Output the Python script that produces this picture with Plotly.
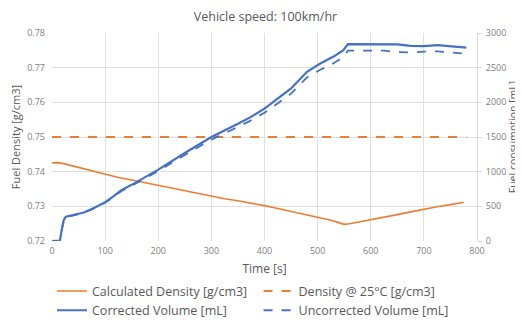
import plotly.graph_objects as go

title_text = "Vehicle speed: 100km/hr"

t_density = [0, 10, 20, 30, 40, 50, 60, 75, 100, 125, 150, 175, 200, 225, 250, 275, 300, 325, 350, 375,
             400, 425, 450, 475, 500, 525, 540, 550, 560, 575, 600, 625, 650, 675, 700, 725, 750, 775]
density = [0.7425, 0.7426, 0.7424, 0.7420, 0.7416, 0.7412, 0.7407, 0.7401, 0.7391, 0.7383, 0.7376, 0.7368,
           0.7360, 0.7352, 0.7345, 0.7337, 0.7329, 0.7322, 0.7316, 0.7310, 0.7302, 0.7294, 0.7286, 0.7278,
           0.7270, 0.7260, 0.7253, 0.7248, 0.7250, 0.7254, 0.7261, 0.7268, 0.7276, 0.7284, 0.7292, 0.7299,
           0.7305, 0.7312]

t_ref = [0, 780]
density_25 = [0.75, 0.75]

t_volume = [0, 10, 15, 18, 22, 26, 40, 60, 80, 100, 115, 130, 150, 166, 200, 250, 300, 350, 373, 400,
            450, 480, 505, 530, 548, 557, 575, 600, 625, 650, 675, 700, 725, 750, 780]
corrected = [0, 0, 5, 150, 300, 350, 375, 410, 480, 560, 640, 730, 810, 880, 1030, 1270, 1500, 1690, 1783,
             1910, 2200, 2440, 2560, 2660, 2750, 2840, 2840, 2830, 2840, 2835, 2815, 2810, 2825, 2810, 2790]
uncorrected = [0, 0, 5, 148, 295, 345, 370, 405, 473, 552, 630, 718, 796, 864, 1010, 1240, 1462, 1645, 1733,
               1850, 2125, 2360, 2470, 2565, 2650, 2745, 2745, 2740, 2745, 2725, 2720, 2730, 2735, 2720, 2700]

x_ticks = [0, 100, 200, 300, 400, 500, 600, 700, 800]
y_left_ticks = [0.72, 0.73, 0.74, 0.75, 0.76, 0.77, 0.78]
y_right_ticks = [0, 500, 1000, 1500, 2000, 2500, 3000]

ORANGE = "#ED7D31"
BLUE = "#4472C4"
GRID = "#E0E0E0"
TXT = "#595959"
TICK = "#808080"
FONT = "Open Sans, Liberation Sans, sans-serif"

fig = go.Figure()
fig.add_trace(go.Scatter(x=t_density, y=density, mode="lines", name="Calculated Density [g/cm3]",
                         line=dict(color=ORANGE, width=1.6), legend="legend"))
fig.add_trace(go.Scatter(x=t_ref, y=density_25, mode="lines", name="Density @ 25°C [g/cm3]",
                         line=dict(color=ORANGE, width=2, dash="dash"), legend="legend2"))
fig.add_trace(go.Scatter(x=t_volume, y=corrected, mode="lines", name="Corrected Volume [mL]",
                         line=dict(color=BLUE, width=2.2), yaxis="y2", legend="legend"))
fig.add_trace(go.Scatter(x=t_volume, y=uncorrected, mode="lines", name="Uncorrected Volume [mL]",
                         line=dict(color=BLUE, width=1.8, dash="dash"), yaxis="y2", legend="legend2"))

leg_common = dict(orientation="v", yanchor="top", y=-0.17, font=dict(size=12.5, color=TXT, family=FONT),
                  itemwidth=30, tracegroupgap=0, bgcolor="rgba(0,0,0,0)", borderwidth=0)

# The page body has an 8px default margin, so the figure is sized to fit the 523x320 window.
fig.update_layout(
    width=515, height=312,
    margin=dict(l=44, r=46, t=25, b=79, autoexpand=False),
    paper_bgcolor="white", plot_bgcolor="white",
    font=dict(family=FONT, color=TXT, size=9),
    title=dict(text=title_text, x=0.5, xanchor="center", y=0.972, yanchor="middle",
               font=dict(size=12.5, color=TXT, family=FONT)),
    xaxis=dict(range=[0, 800], tickvals=x_ticks, showgrid=True, gridcolor=GRID, gridwidth=1,
               zeroline=False, showline=False, ticks="", ticklabelstandoff=3,
               tickfont=dict(size=9, color=TICK),
               title=dict(text="Time [s]", font=dict(size=12, color=TXT), standoff=8)),
    yaxis=dict(range=[0.72, 0.78], tickvals=y_left_ticks, tickformat=".2f", showgrid=True,
               gridcolor=GRID, gridwidth=1, zeroline=False, showline=False, ticks="",
               ticklabelstandoff=6, tickfont=dict(size=9, color=TICK),
               title=dict(text="Fuel Density [g/cm3]", font=dict(size=11, color=TXT), standoff=4)),
    yaxis2=dict(range=[0, 3000], tickvals=y_right_ticks, overlaying="y", side="right", showgrid=False,
                zeroline=False, showline=True, linecolor="#D9D9D9", ticks="outside", ticklen=4,
                tickcolor="#D9D9D9", ticklabelstandoff=2, tickfont=dict(size=9, color=TICK),
                title=dict(text="Fuel consumption [mL]", font=dict(size=10.5, color=TXT), standoff=1)),
    legend=dict(x=0.0, xanchor="left", **leg_common),
    legend2=dict(x=0.486, xanchor="left", **leg_common),
    showlegend=True,
)

fig.write_html("out.html")
